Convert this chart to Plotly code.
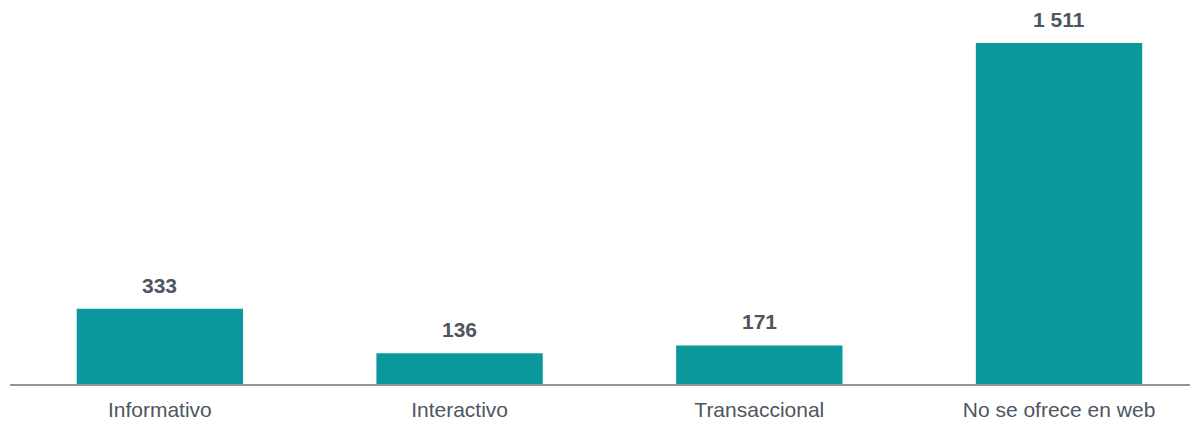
import plotly.graph_objects as go

categories = ["Informativo", "Interactivo", "Transaccional", "No se ofrece en web"]
values = [333, 136, 171, 1511]

def fmt(v):
    return f"{v:,}".replace(",", " ")

fig = go.Figure()
fig.add_trace(go.Bar(
    x=categories, y=values,
    marker=dict(color="#0A989C", line=dict(width=0)),
    width=0.555,
    hoverinfo="skip",
))

for c, v in zip(categories, values):
    fig.add_annotation(
        x=c, y=v, text=f"<b>{fmt(v)}</b>", showarrow=False,
        yanchor="bottom", yshift=11, borderpad=0,
        font=dict(family="Liberation Sans, Arial, sans-serif", size=21, color="#4E5660"),
    )

fig.update_layout(
    width=1198, height=422,
    margin=dict(l=2, r=16, t=12, b=46),
    paper_bgcolor="white", plot_bgcolor="white",
    showlegend=False,
    bargap=0.445,
    xaxis=dict(
        type="category", range=[-0.5, 3.437],
        showline=True, linecolor="#8A97A1", linewidth=2,
        showgrid=False, zeroline=False, ticks="",
        ticklabelstandoff=6,
        tickfont=dict(family="Liberation Sans, Arial, sans-serif", size=21, color="#4E5660"),
        fixedrange=True, automargin=False,
    ),
    yaxis=dict(
        range=[0, 1613], visible=False, showgrid=False, zeroline=False,
        fixedrange=True,
    ),
)

fig.write_html("out.html")
